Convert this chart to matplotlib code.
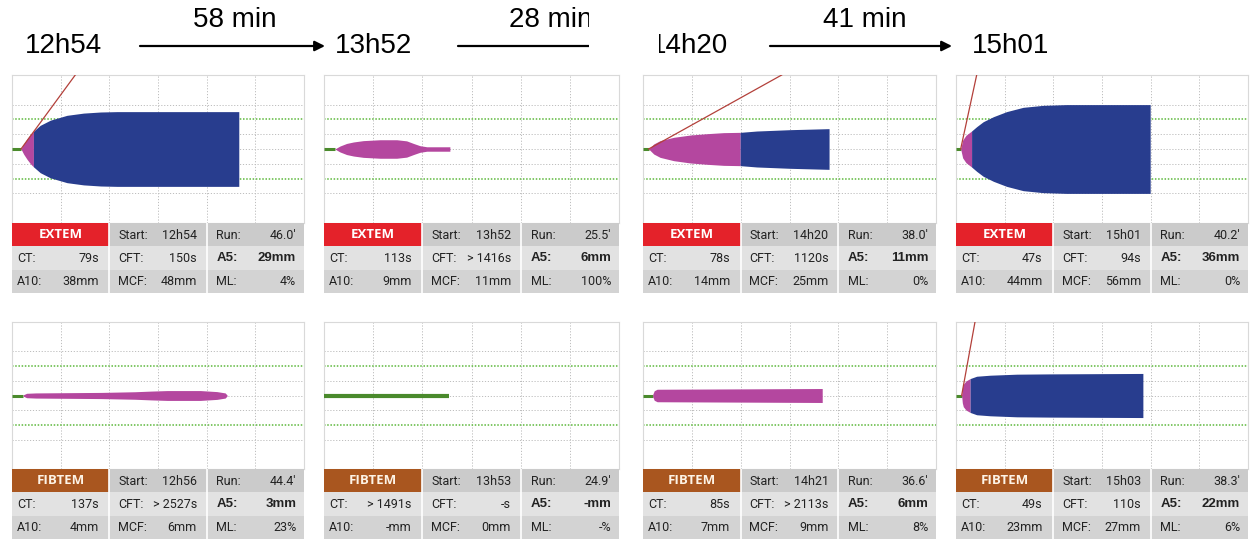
import numpy as np
import matplotlib.pyplot as plt
from matplotlib.patches import Rectangle
from matplotlib import font_manager

# ---- data ----
assays = ['EXTEM', 'FIBTEM']
clock = ['12h54', '13h52', '14h20', '15h01']
gaps = ['58 min', '28 min', '41 min']

start_times = [['12h54', '13h52', '14h20', '15h01'], ['12h56', '13h53', '14h21', '15h03']]
run_times = [["46.0'", "25.5'", "38.0'", "40.2'"], ["44.4'", "24.9'", "36.6'", "38.3'"]]
ct_vals = [['79s', '113s', '78s', '47s'], ['137s', '> 1491s', '85s', '49s']]
cft_vals = [['150s', '> 1416s', '1120s', '94s'], ['> 2527s', '-s', '> 2113s', '110s']]
a5_vals = [['29mm', '6mm', '11mm', '36mm'], ['3mm', '-mm', '6mm', '22mm']]
a10_vals = [['38mm', '9mm', '14mm', '44mm'], ['4mm', '-mm', '7mm', '23mm']]
mcf_vals = [['48mm', '11mm', '25mm', '56mm'], ['6mm', '0mm', '9mm', '27mm']]
ml_vals = [['4%', '100%', '0%', '0%'], ['23%', '-%', '8%', '6%']]

# temogram traces: time (min) and amplitude (mm)
ext_t = [
    [1.85, 2.4, 3.1, 3.8, 4.4, 5.8, 7.9, 11.3, 14.7, 18.2, 21.6, 46.6],
    [2.2, 3.25, 4.6, 6.0, 8.0, 11.4, 14.8, 16.8, 18.2, 19.5, 20.9, 25.6],
    [1.16, 2.2, 3.5, 6.3, 9.7, 13.1, 16.5, 19.9, 23.3, 30.1, 38.1],
    [0.96, 1.37, 2.05, 3.2, 4.25, 5.6, 7.7, 10.4, 13.8, 17.9, 22.7, 39.9],
]
ext_a = [
    [0, 7, 14, 20, 24, 32, 39, 45.5, 48.5, 50, 50.5, 50.5],
    [0, 4, 7.5, 9.5, 11.3, 12.5, 12.5, 11, 7.5, 4.5, 3, 3],
    [0, 6.8, 11.3, 15.8, 18.9, 20.7, 22.1, 22.5, 24.3, 26.1, 27.5],
    [0, 12, 18.5, 24.3, 30.2, 36.9, 43.7, 50.5, 56.3, 59, 60, 60],
]
fib_t = [
    [2.3, 3.0, 4.9, 18.4, 25.2, 28.6, 31.9, 38.7, 42.1, 43.8, 44.2],
    [],
    [2.0, 2.3, 2.9, 20.0, 36.7],
    [1.16, 1.3, 1.5, 2.05, 2.9, 4.25, 7.0, 12.5, 19.3, 38.4],
]
fib_a = [
    [0.8, 3.0, 3.5, 4.2, 5.1, 6.0, 6.7, 6.7, 5.3, 3.5, 0.5],
    [],
    [1.5, 6.5, 8.5, 9.0, 9.5],
    [0, 10, 15.2, 19.8, 23, 26.2, 27.6, 29, 29.4, 30],
]
ext_ct = [1.85, 2.2, 1.16, 0.96]        # end of green baseline
fib_ct = [2.3, 25.4, 2.0, 1.16]
ext_split = [4.4, None, 19.9, 3.2]       # purple -> blue
fib_split = [None, None, None, 2.9]
ext_alpha = [13.0, None, 28.4, 4.25]     # tangent reaches +50 mm
fib_alpha = [None, None, None, 3.9]

# ---- fonts ----
def pick_font(names):
    for n in names:
        try:
            font_manager.findfont(n, fallback_to_default=False)
            return n
        except Exception:
            pass
    return 'DejaVu Sans'

TABLE_FONT = pick_font(['Liberation Sans Narrow', 'Roboto', 'Open Sans'])

# ---- layout ----
W, H = 1250, 543
fig = plt.figure(figsize=(12.5, 5.43), dpi=100)
fig.patch.set_facecolor('white')

cols_x = [(12, 304), (324, 619), (643, 936), (956, 1248)]
rows_y = [(75, 223, 293), (322, 469, 539)]

BLUE = '#283d8e'
PURPLE = '#b4479f'
GREEN = '#4a8a2c'
RED = '#b3403a'
head_colors = ['#e4222a', '#a9561f']
row_bg = ['#cbcbcb', '#e2e2e2', '#d3d3d3']
lab_pad = [0.05, 0.09, 0.10]
val_pad = [0.11, 0.10, 0.08]


def px_axes(x0, y0, x1, y1):
    return fig.add_axes([x0 / W, 1 - y1 / H, (x1 - x0) / W, (y1 - y0) / H])


def draw_graph(ax, t, a, ct, split, alpha_end, thick=False):
    ax.set_xlim(0, 60)
    ax.set_ylim(-50, 50)
    ax.set_xticks([])
    ax.set_yticks([])
    for s in ax.spines.values():
        s.set_color('#d9d9d9')
        s.set_linewidth(0.8)
    for x in range(10, 60, 10):
        ax.axvline(x, color='#bdbdbd', lw=0.7, ls=(0, (1.2, 1.8)), zorder=1)
    for y in [-30, -10, 0, 10, 30]:
        ax.axhline(y, color='#bdbdbd', lw=0.7, ls=(0, (1.2, 1.8)), zorder=1)
    for y in [-20, 20]:
        ax.axhline(y, color='#5db83c', lw=1.1, ls=(0, (1, 1.1)), zorder=1)

    ax.plot([0, ct], [0, 0], color=GREEN, lw=3.0 if thick else 2.2,
            solid_capstyle='butt', zorder=3)
    if len(t):
        t = np.array(t)
        a = np.array(a) / 2
        if split is None:
            ax.fill_between(t, a, -a, color=PURPLE, lw=0, zorder=4)
        else:
            m1 = t <= split
            m2 = t >= split
            ax.fill_between(t[m1], a[m1], -a[m1], color=PURPLE, lw=0, zorder=4)
            ax.fill_between(t[m2], a[m2], -a[m2], color=BLUE, lw=0, zorder=4)
    if alpha_end is not None:
        ax.plot([ct, alpha_end], [0, 50], color=RED, lw=0.9, zorder=5)


def draw_table(ax, r, c):
    ax.set_xlim(0, 3)
    ax.set_ylim(3, 0)
    ax.axis('off')
    for row in range(3):
        ax.add_patch(Rectangle((0, row), 3, 1, color=row_bg[row], lw=0))
    ax.add_patch(Rectangle((0, 0), 1, 1, color=head_colors[r], lw=0))
    for x in [1, 2]:
        ax.plot([x, x], [0, 3], color='white', lw=1.2)
    ax.text(0.5, 0.5, assays[r],
            color='white' if r == 0 else '#fdf3e6',
            ha='center', va='center', fontsize=9.5, fontweight='bold',
            family='Open Sans')
    cells = [
        [(None, None), ('Start:', start_times[r][c]), ('Run:', run_times[r][c])],
        [('CT:', ct_vals[r][c]), ('CFT:', cft_vals[r][c]), ('A5:', a5_vals[r][c])],
        [('A10:', a10_vals[r][c]), ('MCF:', mcf_vals[r][c]), ('ML:', ml_vals[r][c])],
    ]
    for row in range(3):
        for col in range(3):
            lab, val = cells[row][col]
            if lab is None:
                continue
            if lab == 'A5:':
                kw = dict(fontsize=9.5, fontweight='bold', family='Liberation Sans')
            else:
                kw = dict(fontsize=9, family=TABLE_FONT)
            ax.text(col + lab_pad[col], row + 0.52, lab, ha='left', va='center',
                    color='#222222', **kw)
            ax.text(col + 1 - val_pad[col], row + 0.52, val, ha='right',
                    va='center', color='#222222', **kw)


for r in range(2):
    ts = ext_t if r == 0 else fib_t
    as_ = ext_a if r == 0 else fib_a
    cts = ext_ct if r == 0 else fib_ct
    sps = ext_split if r == 0 else fib_split
    als = ext_alpha if r == 0 else fib_alpha
    gy0, gy1, ty1 = rows_y[r]
    for c in range(4):
        x0, x1 = cols_x[c]
        gax = px_axes(x0, gy0, x1, gy1)
        draw_graph(gax, ts[c], as_[c], cts[c], sps[c], als[c],
                   thick=(r == 1 and c == 1))
        tax = px_axes(x0, gy1, x1, ty1)
        draw_table(tax, r, c)

# ---- time line on top ----
top = fig.add_axes([0, 0, 1, 1], facecolor='none')
top.set_xlim(0, W)
top.set_ylim(H, 0)
top.axis('off')
tf = dict(fontsize=20, family='Liberation Sans', color='black', va='center')
top.text(25, 46, clock[0], ha='left', **tf)
top.text(335, 46, clock[1], ha='left', **tf)
top.text(651, 46, clock[2], ha='left', **tf)
top.text(972, 46, clock[3], ha='left', **tf)
top.text(235, 20, gaps[0], ha='center', **tf)
top.text(509, 20, gaps[1], ha='left', **tf)
top.text(865, 20, gaps[2], ha='center', **tf)
arrow = dict(arrowstyle='-|>', lw=1.6, color='black', mutation_scale=15,
             shrinkA=0, shrinkB=0)
top.annotate('', xy=(325, 46), xytext=(140, 46), arrowprops=arrow)
top.annotate('', xy=(640, 46), xytext=(458, 46), arrowprops=arrow)
top.annotate('', xy=(952, 46), xytext=(770, 46), arrowprops=arrow)
# cropped strip in the original figure
top.add_patch(Rectangle((589, 0), 70, 70, color='white', lw=0, zorder=10))

fig.savefig('out.png', dpi=100)
